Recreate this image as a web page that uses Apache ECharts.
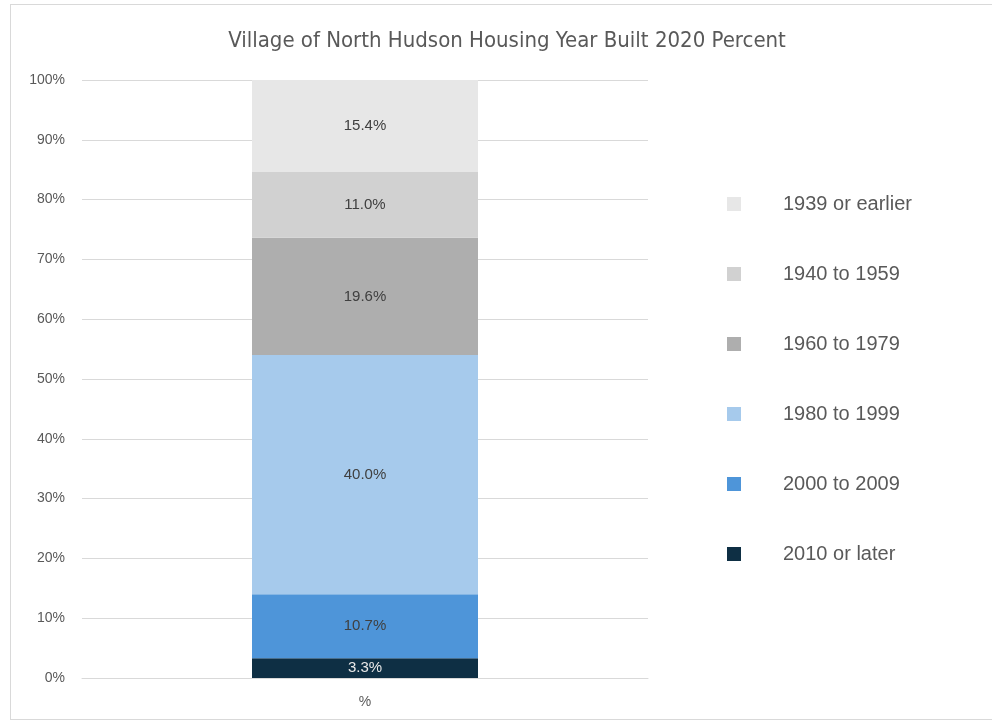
<!DOCTYPE html>
<html>
<head>
<meta charset="utf-8">
<script src="https://cdn.jsdelivr.net/npm/echarts@6/dist/echarts.min.js"></script>
<style>
  html, body { margin: 0; padding: 0; background: #fff; }
  #frame { position: absolute; left: 10px; top: 4px; width: 990px; height: 716px; border: 1px solid #d9d9d9; box-sizing: border-box; }
  #chart { width: 992px; height: 723px; }
</style>
</head>
<body>
<div id="frame"></div>
<div id="chart"></div>
<script>
const categories = ['%'];
const seriesNames = ['2010 or later', '2000 to 2009', '1980 to 1999', '1960 to 1979', '1940 to 1959', '1939 or earlier'];
const seriesValues = [[3.3], [10.7], [40.0], [19.6], [11.0], [15.4]];
const seriesColors = ['#0e2f44', '#4e95d9', '#a6caec', '#aeaeae', '#d1d1d1', '#e7e7e7'];
const yTicks = [0, 10, 20, 30, 40, 50, 60, 70, 80, 90, 100];

const chart = echarts.init(document.getElementById('chart'), null, { renderer: 'canvas' });

const series = seriesNames.map(function (name, i) {
  return {
    name: name,
    type: 'bar',
    stack: 'total',
    barWidth: 226,
    data: seriesValues[i],
    itemStyle: { color: seriesColors[i] },
    label: {
      show: true,
      position: 'inside',
      formatter: function (p) { return p.value.toFixed(1) + '%'; },
      fontFamily: 'Liberation Sans',
      fontSize: 15,
      color: i === 0 ? '#e8e8e8' : '#404040'
    }
  };
});

chart.setOption({
  animation: false,
  title: {
    text: 'Village of North Hudson Housing Year Built 2020 Percent',
    left: 502,
    textAlign: 'center',
    top: 25,
    textStyle: { fontFamily: '"DejaVu Sans Condensed", "Roboto", sans-serif', fontWeight: 'normal', fontSize: 22, color: '#595959' }
  },
  legend: {
    orient: 'vertical',
    left: 722,
    top: 188,
    itemWidth: 14,
    itemHeight: 14,
    itemGap: 48,
    icon: 'rect',
    data: seriesNames.slice().reverse(),
    textStyle: { fontFamily: 'Liberation Sans', fontSize: 20, color: '#595959', padding: [0, 0, 0, 37], lineHeight: 22 }
  },
  grid: { left: 82, right: 344, top: 80, bottom: 45 },
  xAxis: {
    type: 'category',
    data: categories,
    axisTick: { show: false },
    axisLine: { lineStyle: { color: '#d9d9d9' } },
    axisLabel: { fontFamily: 'Liberation Sans', fontSize: 14, color: '#595959', margin: 17 }
  },
  yAxis: {
    type: 'value',
    min: yTicks[0],
    max: yTicks[yTicks.length - 1],
    interval: 10,
    axisLine: { show: false },
    axisTick: { show: false },
    splitLine: { lineStyle: { color: '#d9d9d9' } },
    axisLabel: { fontFamily: 'Liberation Sans', fontSize: 14, color: '#595959', margin: 17, formatter: '{value}%' }
  },
  series: series
});
</script>
</body>
</html>
